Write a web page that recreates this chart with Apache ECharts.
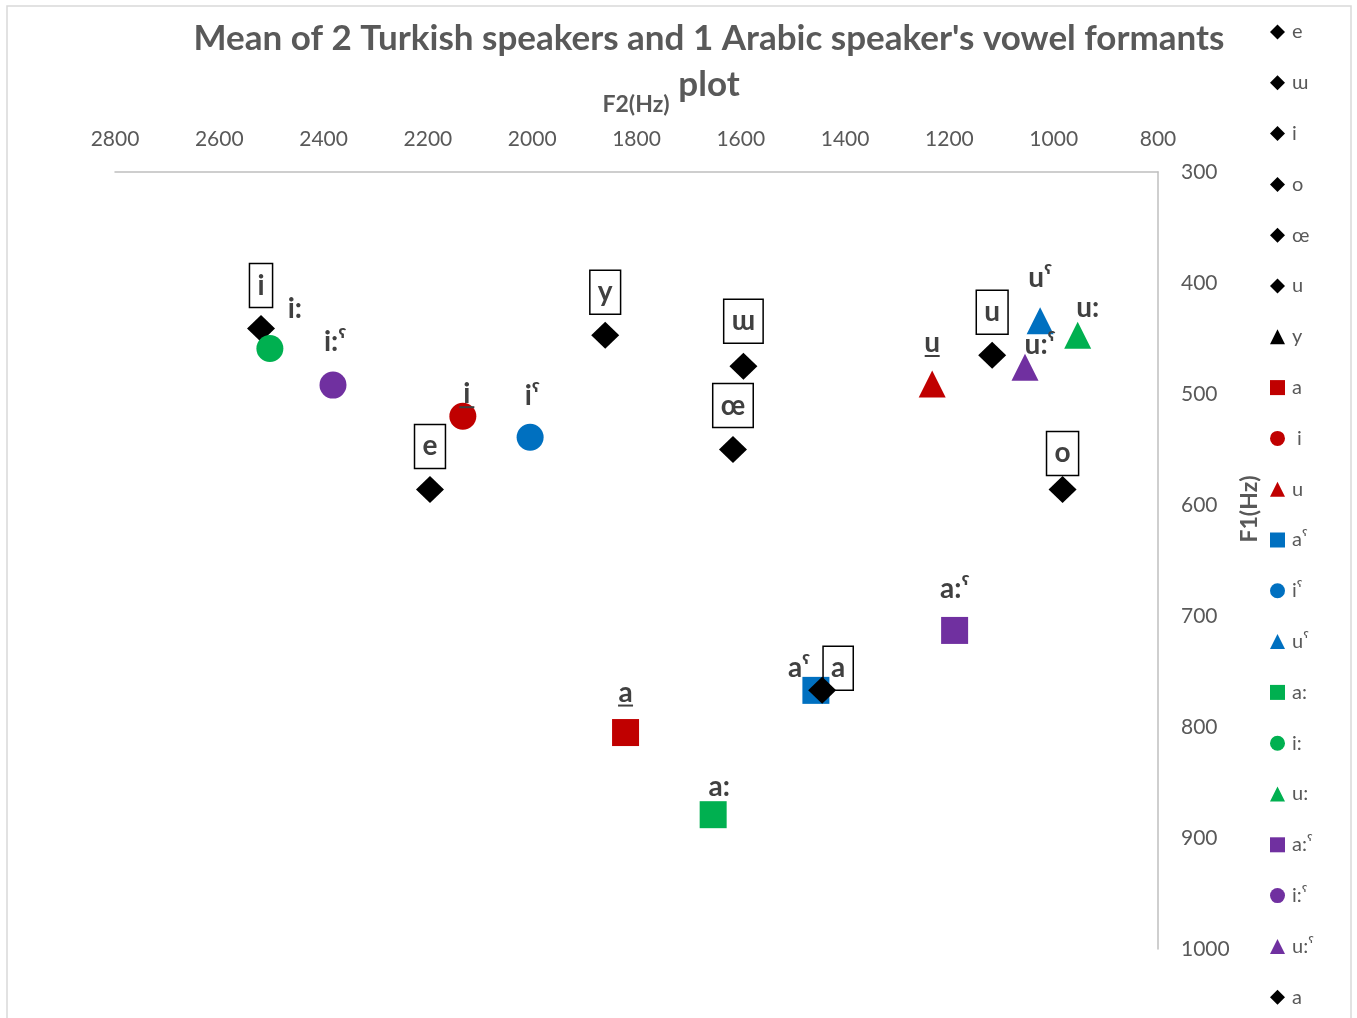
<!DOCTYPE html>
<html>
<head>
<meta charset="utf-8">
<title>Vowel formants plot</title>
<script src="https://cdn.jsdelivr.net/npm/echarts@6/dist/echarts.min.js"></script>
<style>
  html, body { margin: 0; padding: 0; background: #fff; }
  #chart { width: 1357px; height: 1018px; }
</style>
</head>
<body>
<div id="chart"></div>
<script>
// one series per vowel, in legend order (keys must be unique, names may repeat)
const seriesKeys  = ['e', 'ɯ', 'i', 'o', 'œ', 'u', 'y', 'a_ar', 'i_ar', 'u_ar', 'aˤ', 'iˤ', 'uˤ', 'a:', 'i:', 'u:', 'a:ˤ', 'i:ˤ', 'u:ˤ', 'a'];
const legendNames = ['e', 'ɯ', 'i', 'o', 'œ', 'u', 'y', 'a', ' i', 'u', 'aˤ', 'iˤ', 'uˤ', 'a:', 'i:', 'u:', 'a:ˤ', 'i:ˤ', 'u:ˤ', 'a'];
const pointLabels = ['e', 'ɯ', 'i', 'o', 'œ', 'u', 'y', 'a', 'i', 'u', 'aˤ', 'iˤ', 'uˤ', 'a:', 'i:', 'u:', 'a:ˤ', 'i:ˤ', 'u:ˤ', 'a'];
const f2Hz = [2196, 1595, 2520, 983, 1615, 1118, 1860, 1821, 2133, 1233, 1456, 2004, 1026, 1653, 2503, 954, 1190, 2382, 1055, 1444];
const f1Hz = [586, 475, 441, 586, 550, 465, 447, 805, 520, 491, 767, 539, 434, 879, 459, 447, 713, 492, 476, 767];
const turkishKeys = ['e', 'ɯ', 'i', 'o', 'œ', 'u', 'y', 'a'];
const underlinedKeys = ['a_ar', 'i_ar', 'u_ar'];

// styling
const FONT = 'Lato, "Noto Sans", "DejaVu Sans", sans-serif';
const TXT = '#404040';
const markerColors = ['#000', '#000', '#000', '#000', '#000', '#000', '#000',
  '#C00000', '#C00000', '#C00000', '#0070C0', '#0070C0', '#0070C0',
  '#00B050', '#00B050', '#00B050', '#7030A0', '#7030A0', '#7030A0', '#000'];
const markerShapes = ['diamond', 'diamond', 'diamond', 'diamond', 'diamond', 'diamond', 'diamond',
  'rect', 'circle', 'triangle', 'rect', 'circle', 'triangle',
  'rect', 'circle', 'triangle', 'rect', 'circle', 'triangle', 'diamond'];
const legendIcons = markerShapes.map((s, i) => seriesKeys[i] === 'y' ? 'triangle' : s);
const labelOffsets = [[0, -43], [0, -45], [0, -43], [0, -36], [0, -44], [0, -43], [0, -43],
  [0, -39], [4, -21], [0, -40], [-17, -22], [2, -41], [0, -43],
  [6, -28], [25, -40], [10, -27], [0, -41], [2, -43], [15, -22], [16, -22]];

const chart = echarts.init(document.getElementById('chart'));

const series = seriesKeys.map(function(key, i) {
  const boxed = turkishKeys.indexOf(key) >= 0;
  const underlined = underlinedKeys.indexOf(key) >= 0;
  const label = {
    show: true,
    position: 'inside',
    offset: labelOffsets[i],
    fontFamily: FONT,
    fontSize: 28,
    fontWeight: 'bold',
    color: TXT,
    lineHeight: boxed ? 34 : 32,
    formatter: pointLabels[i]
  };
  if (boxed) {
    label.borderColor = '#000';
    label.borderWidth = 1.5;
    label.padding = [5, 8];
  }
  if (underlined) {
    // underline drawn as a thin bar on a second rich-text line
    label.formatter = '{t|' + pointLabels[i] + '}\n{ul|}';
    label.rich = {
      t: { fontFamily: FONT, fontSize: 28, fontWeight: 'bold', color: TXT, lineHeight: 24 },
      ul: { width: 15, height: 2, lineHeight: 2, backgroundColor: TXT }
    };
  }
  return {
    name: key,
    type: 'scatter',
    symbol: markerShapes[i],
    symbolSize: markerShapes[i] === 'diamond' ? [28, 27] : 27,
    itemStyle: { color: markerColors[i], opacity: 1 },
    label: label,
    emphasis: { disabled: true },
    data: [[f2Hz[i], f1Hz[i]]]
  };
});

chart.setOption({
  animation: false,
  title: {
    text: 'Mean of 2 Turkish speakers and 1 Arabic speaker\'s vowel formants\nplot',
    left: 709,
    textAlign: 'center',
    top: 16,
    padding: 0,
    textStyle: { fontFamily: FONT, fontSize: 35, fontWeight: 'bold', color: '#595959', lineHeight: 46 }
  },
  legend: {
    orient: 'vertical',
    left: 1270,
    top: 22,
    padding: 0,
    itemWidth: 15,
    itemHeight: 15,
    itemGap: 30.8,
    selectedMode: false,
    data: seriesKeys.map((k, i) => ({ name: k, icon: legendIcons[i] })),
    formatter: name => legendNames[seriesKeys.indexOf(name)],
    textStyle: { fontFamily: FONT, fontSize: 20, color: '#595959', lineHeight: 20, padding: [0, 0, 0, 2] }
  },
  grid: { left: 115, right: 199, top: 172, bottom: 69 },
  xAxis: {
    type: 'value',
    position: 'top',
    inverse: true,
    min: 800, max: 2800, interval: 200,
    axisLine: { show: true, onZero: false, lineStyle: { color: '#bfbfbf', width: 1.5 } },
    axisTick: { show: false },
    splitLine: { show: false },
    axisLabel: { margin: 22, fontFamily: FONT, fontSize: 21, color: '#595959', formatter: v => String(v) }
  },
  yAxis: {
    type: 'value',
    position: 'right',
    inverse: true,
    min: 300, max: 1000, interval: 100,
    axisLine: { show: true, onZero: false, lineStyle: { color: '#bfbfbf', width: 1.5 } },
    axisTick: { show: false },
    splitLine: { show: false },
    axisLabel: { margin: 23, fontFamily: FONT, fontSize: 21, color: '#595959', formatter: v => String(v) }
  },
  graphic: [
    {
      type: 'rect', silent: true, z: -1,
      shape: { x: 7, y: 6, width: 1344, height: 1100 },
      style: { fill: 'none', stroke: '#d9d9d9', lineWidth: 1.5 }
    },
    {
      type: 'text', x: 636, y: 105,
      style: { text: 'F2(Hz)', fontFamily: FONT, fontSize: 23, fontWeight: 'bold', fill: '#595959', align: 'center', verticalAlign: 'middle' }
    },
    {
      type: 'text', x: 1250, y: 509, rotation: Math.PI / 2,
      style: { text: 'F1(Hz)', fontFamily: FONT, fontSize: 23, fontWeight: 'bold', fill: '#595959', align: 'center', verticalAlign: 'middle' }
    }
  ],
  series: series
});
</script>
</body>
</html>
